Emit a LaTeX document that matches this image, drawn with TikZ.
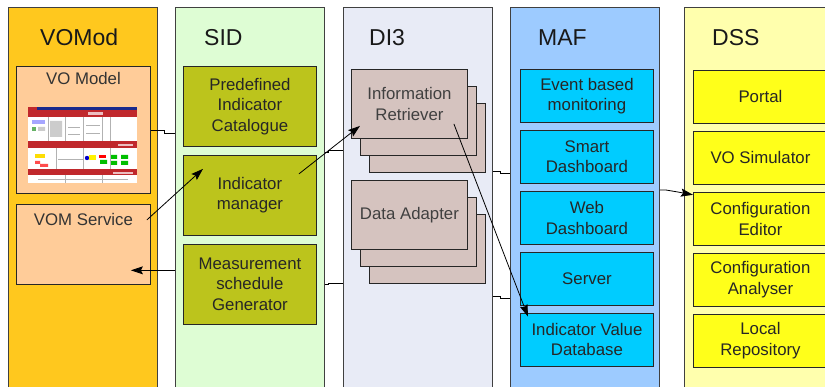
\documentclass[tikz,border=0pt]{standalone}
\usepackage{fontspec}
\setmainfont{Liberation Sans}
\usepackage{tikz}
\usetikzlibrary{positioning,arrows.meta,shadows,calc}

\definecolor{vomod_bg}{HTML}{FFC81E}
\definecolor{vomod_box}{HTML}{FFCC99}
\definecolor{sid_bg}{HTML}{DEFDD4}
\definecolor{sid_box}{HTML}{BCC41C}
\definecolor{di3_bg}{HTML}{E8EBF6}
\definecolor{di3_box}{HTML}{D5C3BF}
\definecolor{maf_bg}{HTML}{9DCBFF}
\definecolor{maf_box}{HTML}{00CCFF}
\definecolor{dss_bg}{HTML}{FFFFAD}
\definecolor{dss_box}{HTML}{FFFF1A}
\definecolor{shot_red}{HTML}{C0282C}
\definecolor{shot_blue}{HTML}{1A2A8C}

\newcommand{\boxfont}{\fontsize{16.8}{20.5}\selectfont}
\newcommand{\titlefont}{\fontsize{23}{27}\selectfont}

\begin{document}
\begin{tikzpicture}[
    x=1pt, y=-1pt,
    node distance=7pt,
    panel/.style={draw=black!75, line width=0.8pt, anchor=north west, minimum width=149, minimum height=400},
    title/.style={anchor=base west, font=\titlefont, text=black!90, inner sep=0pt},
    module/.style={draw=black!85, line width=0.9pt, minimum width=133, minimum height=53, align=center, font=\boxfont, text=black!85, inner sep=1pt},
    vo module/.style={module, fill=vomod_box, minimum width=134},
    sid module/.style={module, fill=sid_box, minimum height=80},
    di3 module/.style={module, fill=di3_box, minimum width=116, minimum height=69, text=black!75,
        copy shadow={shadow xshift=18pt, shadow yshift=-34pt, fill=di3_box, draw=black!85},
        copy shadow={shadow xshift=9pt, shadow yshift=-17pt, fill=di3_box, draw=black!85}},
    maf module/.style={module, fill=maf_box},
    dss module/.style={module, fill=dss_box, minimum width=134},
    link/.style={black, line width=0.8pt},
    arrow/.style={link, -{Stealth[length=12pt,width=8pt,inset=2pt]}}
]
    \useasboundingbox (0,0) rectangle (825,387);
    \clip (0,0) rectangle (825,387);
    \fill[white] (0,0) rectangle (825,387);

    % the five tool columns
    \node[panel, fill=vomod_bg] (vomod) at (8,7) {};
    \node[panel, fill=sid_bg] (sid) at (175,7) {};
    \node[panel, fill=di3_bg] (di3) at (343,7) {};
    \node[panel, fill=maf_bg] (maf) at (510,7) {};
    \node[panel, fill=dss_bg, minimum width=160] (dss) at (684,7) {};

    \node[title] (vomodtitle) at (40,46) {VOMod};
    \node[title] (sidtitle) at (204,46) {SID};
    \node[title] (di3title) at (369,46) {DI3};
    \node[title] (maftitle) at (538,46) {MAF};
    \node[title] (dsstitle) at (712,46) {DSS};

    % VOMod
    \node[vo module, minimum height=127, anchor=north west] (vomodel) at (16,66) {};
    \node[font=\boxfont, text=black!80, below=3pt of vomodel.north] (vomodellabel) {VO Model};
    \node[vo module, minimum height=80, below=10pt of vomodel] (vomserv) {};
    \node[font=\boxfont, text=black!80, below=6pt of vomserv.north] (vomservlabel) {VOM Service};

    % screenshot of the model editor
    \begin{scope}[shift={(28,107)}]
        \fill[white] (0,0) rectangle (109,76);
        \fill[shot_blue] (9,0) rectangle (109,3);
        \fill[shot_red] (0,0) rectangle (9,3);
        \fill[shot_red] (0,3) rectangle (109,10);
        \fill[shot_red] (0,34) rectangle (109,41);
        \fill[shot_red] (0,62) rectangle (109,68);
        \fill[white!70!shot_red] (60,5) rectangle (75,8);
        \fill[white!70!shot_red] (90,37) rectangle (105,39);
        \fill[white!70!shot_red] (85,65) rectangle (105,67);
        \draw[gray!60, line width=0.4pt] (20,10) -- (20,34) (37,10) -- (37,34) (55,10) -- (55,34)
            (74,10) -- (74,34) (82,10) -- (82,34) (28,41) -- (28,62) (55,41) -- (55,62)
            (82,41) -- (82,62) (37,68) -- (37,76) (74,68) -- (74,76)
            (40,20) -- (52,20) (40,27) -- (52,27) (58,18) -- (72,18) (58,26) -- (72,26)
            (30,52) -- (56,52) (10,72) -- (100,72);
        \fill[blue!35] (4,13) rectangle (17,17);
        \fill[green!50!black!60] (4,20) rectangle (8,24);
        \fill[gray!40] (10,20) rectangle (17,24) (22,14) rectangle (34,30);
        \fill[yellow!80!orange] (7,47) rectangle (17,51);
        \fill[red!70] (7,54) rectangle (12,57) (12,57) rectangle (20,60);
        \fill[blue!80!black] (59,51) circle (2.2);
        \fill[yellow] (61,48) rectangle (68,53);
        \fill[red] (71,48) rectangle (78,51);
        \fill[green!75!black] (72,53) rectangle (79,57) (83,48) rectangle (89,52)
            (93,48) rectangle (100,52) (83,54) rectangle (89,58) (93,54) rectangle (100,58);
    \end{scope}

    % SID
    \node[sid module, anchor=north west] (catalogue) at (183,66) {Predefined\\Indicator\\Catalogue};
    \node[sid module, below=8pt of catalogue] (inman) {Indicator\\manager};
    \node[sid module, below=8pt of inman] (msg) {Measurement\\schedule\\Generator};

    % DI3
    \node[di3 module, anchor=north west] (inforet) at (351,69) {Information\\Retriever};
    \node[di3 module, below=41pt of inforet] (adapter) {Data Adapter};

    % MAF
    \node[maf module, anchor=north west] (evmon) at (520,69) {Event based\\monitoring};
    \node[maf module, below=of evmon] (smartdb) {Smart\\Dashboard};
    \node[maf module, below=of smartdb] (webdb) {Web\\Dashboard};
    \node[maf module, below=of webdb] (server) {Server};
    \node[maf module, below=of server] (ivd) {Indicator Value\\Database};

    % DSS
    \node[dss module, anchor=north west] (portal) at (693,70) {Portal};
    \node[dss module, below=of portal] (vosim) {VO Simulator};
    \node[dss module, below=of vosim] (cfged) {Configuration\\Editor};
    \node[dss module, below=of cfged] (cfgan) {Configuration\\Analyser};
    \node[dss module, below=of cfgan] (localrep) {Local\\Repository};

    % links between the tools
    \draw[link] (vomodel.east) -- ++(13,0) |- (sid.west |- 0,133);
    \draw[arrow] ($(vomserv.north east)+(-4,16)$) -- ($(inman.north west)+(20,14)$);
    \draw[arrow] ($(inman.north east)+(-18,19)$) -- ($(inforet.south west)+(9,-13)$);
    \draw[arrow] ($(inforet.south east)+(-14,-15)$) -- ($(ivd.north west)+(8,4)$);
    \coordinate (svcin) at ($(vomserv.east)+(-20,26)$);
    \draw[arrow] (sid.west |- svcin) -- (svcin);
    \draw[link] (sid.east |- 0,152) -- ++(4,0) |- (di3.west |- 0,150);
    \draw[link] (sid.east |- 0,284) -- ++(4,0) |- (di3.west |- 0,283);
    \draw[link] (di3.east |- 0,171) -- ++(8,0) |- (maf.west |- 0,173);
    \draw[link] (di3.east |- 0,296) -- ++(8,0) |- (maf.west |- 0,298);
    \draw[arrow] (maf.east |- 0,190) -- ++(6,0) -- ++(12,2) -- ($(cfged.north west)+(0,3)$);
\end{tikzpicture}
\end{document}
